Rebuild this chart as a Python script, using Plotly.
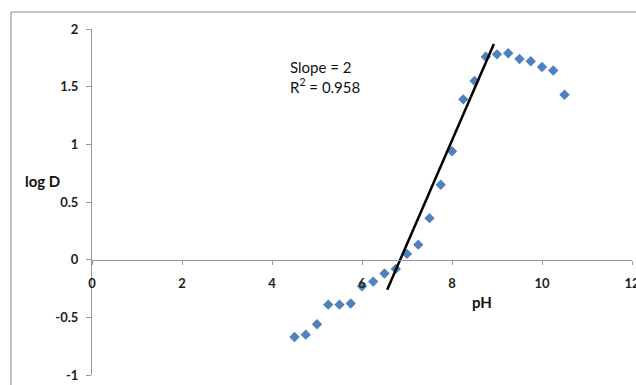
import plotly.graph_objects as go

ph = [4.5, 4.75, 5.0, 5.25, 5.5, 5.75, 6.0, 6.25, 6.5, 6.75, 7.0, 7.25, 7.5,
      7.75, 8.0, 8.25, 8.5, 8.75, 9.0, 9.25, 9.5, 9.75, 10.0, 10.25, 10.5]
log_d = [-0.67, -0.65, -0.56, -0.39, -0.39, -0.38, -0.23, -0.19, -0.12, -0.08,
         0.05, 0.13, 0.36, 0.65, 0.94, 1.39, 1.55, 1.76, 1.78, 1.79, 1.74,
         1.72, 1.67, 1.64, 1.43]
trend_x = [6.56, 8.93]
trend_y = [-0.26, 1.87]
x_ticks = [0, 2, 4, 6, 8, 10, 12]
y_ticks = [-1, -0.5, 0, 0.5, 1, 1.5, 2]
y_tick_labels = ["-1", "-0.5", "0", "0.5", "1", "1.5", "2"]

font_family = "Lato, 'Noto Sans', sans-serif"

fig = go.Figure()
fig.add_trace(go.Scatter(
    x=ph, y=log_d, mode="markers",
    marker=dict(symbol="diamond", size=8, color="#4F81BD", line=dict(width=0)),
    showlegend=False, cliponaxis=False))
fig.add_trace(go.Scatter(
    x=trend_x, y=trend_y, mode="lines",
    line=dict(color="black", width=2.5), showlegend=False))

fig.update_layout(
    width=636, height=385,
    margin=dict(l=92, r=4, t=29, b=10, autoexpand=False),
    paper_bgcolor="white", plot_bgcolor="white",
    font=dict(family=font_family, size=13, color="#222"),
    xaxis=dict(range=[0, 12], tickvals=x_ticks, ticktext=[str(v) for v in x_ticks],
               showgrid=False, zeroline=False, showline=True, linecolor="#999",
               linewidth=1, ticks="outside", ticklen=4, tickcolor="#999",
               anchor="free", position=1/3, ticklabelstandoff=8,
               ticklabeloverflow="allow", automargin=False,
               tickfont=dict(family=font_family, size=13, color="#222", weight="bold")),
    yaxis=dict(range=[-1, 2], tickvals=y_ticks, ticktext=y_tick_labels,
               showgrid=False, zeroline=False, showline=True, linecolor="#999",
               linewidth=1, ticks="outside", ticklen=5, tickcolor="#999",
               ticklabelstandoff=5, automargin=False,
               tickfont=dict(family=font_family, size=13, color="#222", weight="bold")),
    shapes=[dict(type="rect", xref="paper", yref="paper",
                 x0=-0.15, x1=1.2, y0=-0.2, y1=1.049,
                 line=dict(color="#888", width=1), fillcolor="rgba(0,0,0,0)",
                 layer="below")],
    annotations=[
        dict(text="Slope = 2<br>R<sup>2</sup> = 0.958", xref="x", yref="y",
             x=4.35, y=1.585, xanchor="left", yanchor="middle", showarrow=False,
             align="left", font=dict(family=font_family, size=15, color="#111")),
        dict(text="<b>log D</b>", xref="paper", yref="paper",
             x=-0.128, y=0.561, xanchor="left", yanchor="middle", showarrow=False,
             font=dict(family=font_family, size=15, color="#111")),
        dict(text="<b>pH</b>", xref="x", yref="y",
             x=8.67, y=-0.37, xanchor="center", yanchor="middle", showarrow=False,
             font=dict(family=font_family, size=15, color="#111")),
    ],
)

fig.write_html("out.html")
